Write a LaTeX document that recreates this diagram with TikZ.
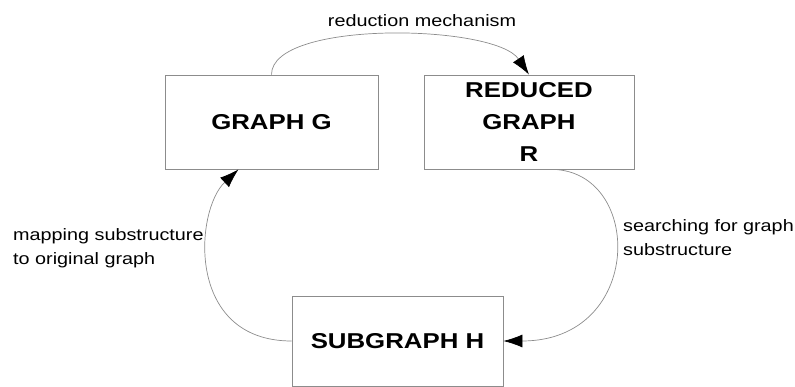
\documentclass[tikz,border=0pt]{standalone}
\usepackage{fontspec}
\setmainfont{Liberation Sans}[FakeStretch=1.2]
\usetikzlibrary{arrows.meta}
\definecolor{linegray}{gray}{0.55}
\tikzset{
  box/.style={draw=linegray, line width=0.8pt, rectangle, inner sep=0pt, align=center,
    font=\fontsize{21.5}{32}\selectfont\bfseries},
  lbl/.style={inner sep=0pt, align=left, font=\fontsize{16.5}{24}\selectfont},
  conn/.style={draw=linegray, line width=0.7pt, -{Latex[black,length=19pt,width=13pt]}}
}
\begin{document}
\begin{tikzpicture}[x=1pt,y=-1pt]
\useasboundingbox (0,0) rectangle (795,387);
\node[box, minimum width=213pt, minimum height=94pt] (G) at (271.5,122) {GRAPH G};
\node[box, minimum width=210pt, minimum height=94pt] (R) at (529,122) {REDUCED\\GRAPH\\R};
\node[box, minimum width=211pt, minimum height=90pt] (H) at (397.5,341) {SUBGRAPH H};
\node[lbl, anchor=center] (l1) at (422,21) {reduction mechanism};
\node[lbl, anchor=west] (l2) at (623,238) {searching for graph\\substructure};
\node[lbl, anchor=west] (l3) at (13,248) {mapping substructure\\to original graph};
\draw[conn] (G.north) .. controls ++(0,-55) and (495,24) .. (R.north);
\draw[conn] ([xshift=24pt]R.south) .. controls (644,172) and (644,341) .. (H.east);
\draw[conn] (H.west) .. controls (185,341) and (195,210) .. ([xshift=-33pt]G.south);
\end{tikzpicture}
\end{document}
